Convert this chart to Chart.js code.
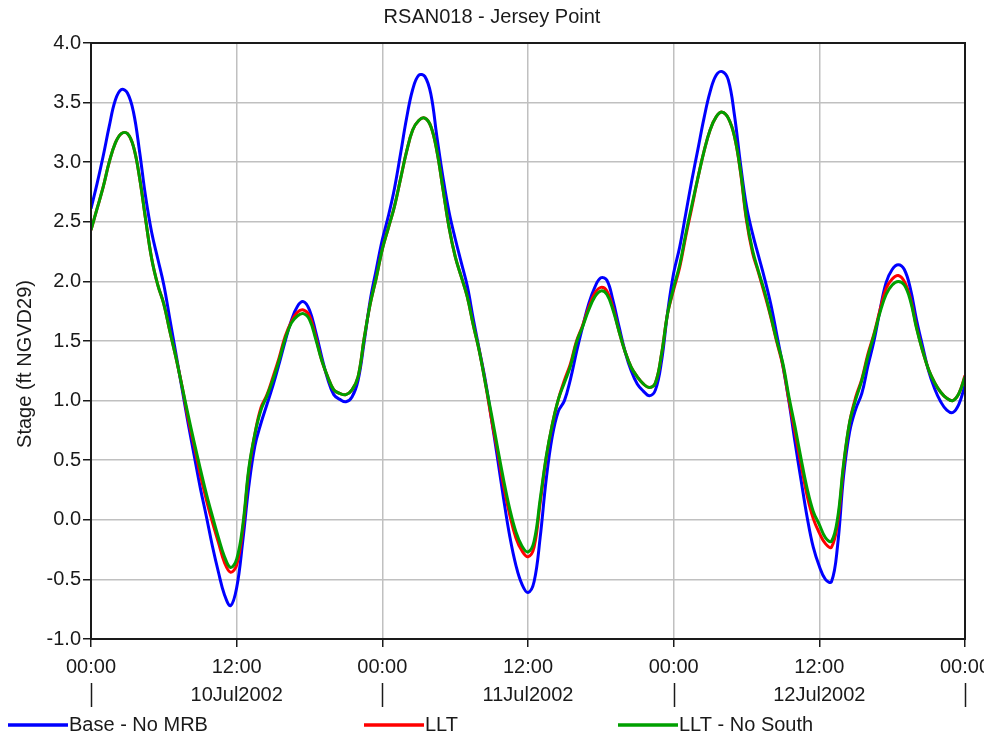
<!DOCTYPE html>
<html>
<head>
<meta charset="utf-8">
<script src="https://cdn.jsdelivr.net/npm/chart.js@4.4.1/dist/chart.umd.min.js"></script>
<style>
  html, body { margin: 0; padding: 0; background: #fff; }
  canvas { display: block; }
</style>
</head>
<body>
<canvas id="grafico" width="984" height="740"></canvas>
<script>
// horas desde 10Jul2002 00:00 (passo de 30 min)
const horas = [
  0, 0.5, 1, 1.5, 2, 2.5, 3, 3.5, 4, 4.5, 5, 5.5, 6, 6.5, 7, 7.5, 8, 8.5, 9, 9.5, 10, 10.5, 11, 11.5,
  12, 12.5, 13, 13.5, 14, 14.5, 15, 15.5, 16, 16.5, 17, 17.5, 18, 18.5, 19, 19.5, 20, 20.5, 21, 21.5, 22, 22.5, 23, 23.5,
  24, 24.5, 25, 25.5, 26, 26.5, 27, 27.5, 28, 28.5, 29, 29.5, 30, 30.5, 31, 31.5, 32, 32.5, 33, 33.5, 34, 34.5, 35, 35.5,
  36, 36.5, 37, 37.5, 38, 38.5, 39, 39.5, 40, 40.5, 41, 41.5, 42, 42.5, 43, 43.5, 44, 44.5, 45, 45.5, 46, 46.5, 47, 47.5,
  48, 48.5, 49, 49.5, 50, 50.5, 51, 51.5, 52, 52.5, 53, 53.5, 54, 54.5, 55, 55.5, 56, 56.5, 57, 57.5, 58, 58.5, 59, 59.5,
  60, 60.5, 61, 61.5, 62, 62.5, 63, 63.5, 64, 64.5, 65, 65.5, 66, 66.5, 67, 67.5, 68, 68.5, 69, 69.5, 70, 70.5, 71, 71.5,
  72
];

const baseNoMRB = [
  2.61, 2.82, 3.05, 3.30, 3.52, 3.61, 3.58, 3.42, 3.09, 2.71, 2.41, 2.19, 1.97, 1.68, 1.39, 1.10, 0.81, 0.54, 0.27, 0.03, -0.22, -0.44, -0.63, -0.72,
  -0.57, -0.18, 0.28, 0.62, 0.81, 0.97, 1.13, 1.31, 1.50, 1.67, 1.79, 1.83, 1.76, 1.58, 1.37, 1.18, 1.05, 1.01, 0.99, 1.03, 1.17, 1.49, 1.84, 2.10,
  2.35, 2.55, 2.78, 3.07, 3.37, 3.61, 3.73, 3.72, 3.57, 3.21, 2.87, 2.58, 2.36, 2.16, 1.96, 1.68, 1.42, 1.16, 0.84, 0.51, 0.17, -0.14, -0.38, -0.54,
  -0.61, -0.52, -0.15, 0.34, 0.70, 0.91, 1.00, 1.18, 1.41, 1.62, 1.81, 1.95, 2.03, 2.01, 1.84, 1.62, 1.41, 1.25, 1.14, 1.08, 1.04, 1.09, 1.33, 1.74,
  2.07, 2.29, 2.57, 2.85, 3.11, 3.37, 3.59, 3.73, 3.76, 3.69, 3.40, 2.99, 2.63, 2.40, 2.21, 2.02, 1.81, 1.55, 1.29, 0.99, 0.65, 0.33, 0.02, -0.23,
  -0.39, -0.50, -0.52, -0.22, 0.37, 0.74, 0.93, 1.06, 1.29, 1.50, 1.76, 1.99, 2.10, 2.14, 2.10, 1.94, 1.68, 1.46, 1.25, 1.10, 0.99, 0.92, 0.90, 0.97,
  1.13
];

const llt = [
  2.43, 2.61, 2.79, 3.00, 3.16, 3.24, 3.24, 3.13, 2.87, 2.52, 2.19, 1.97, 1.81, 1.58, 1.36, 1.12, 0.85, 0.62, 0.38, 0.17, -0.02, -0.19, -0.36, -0.44,
  -0.38, -0.08, 0.41, 0.72, 0.94, 1.05, 1.20, 1.36, 1.54, 1.66, 1.74, 1.76, 1.71, 1.54, 1.34, 1.20, 1.09, 1.06, 1.05, 1.09, 1.20, 1.52, 1.81, 2.03,
  2.27, 2.45, 2.63, 2.86, 3.09, 3.27, 3.35, 3.37, 3.30, 3.09, 2.77, 2.45, 2.21, 2.04, 1.87, 1.63, 1.41, 1.14, 0.84, 0.57, 0.28, 0.04, -0.15, -0.26,
  -0.31, -0.23, 0.14, 0.52, 0.80, 1.01, 1.17, 1.31, 1.50, 1.63, 1.78, 1.90, 1.95, 1.92, 1.78, 1.58, 1.41, 1.28, 1.20, 1.14, 1.11, 1.15, 1.39, 1.73,
  1.93, 2.12, 2.38, 2.62, 2.87, 3.09, 3.27, 3.38, 3.42, 3.37, 3.22, 2.92, 2.51, 2.24, 2.07, 1.89, 1.70, 1.49, 1.29, 1.00, 0.73, 0.46, 0.20, 0.01,
  -0.11, -0.20, -0.23, -0.03, 0.45, 0.82, 1.03, 1.18, 1.39, 1.56, 1.76, 1.94, 2.02, 2.05, 2.00, 1.86, 1.62, 1.42, 1.26, 1.15, 1.07, 1.02, 1.00, 1.06,
  1.21
];

const lltNoSouth = [
  2.43, 2.61, 2.79, 3.00, 3.16, 3.24, 3.24, 3.13, 2.87, 2.52, 2.19, 1.97, 1.81, 1.58, 1.36, 1.12, 0.88, 0.65, 0.43, 0.22, 0.03, -0.15, -0.31, -0.40,
  -0.33, -0.05, 0.43, 0.72, 0.92, 1.04, 1.18, 1.34, 1.52, 1.65, 1.71, 1.73, 1.68, 1.52, 1.34, 1.20, 1.09, 1.06, 1.05, 1.09, 1.20, 1.52, 1.81, 2.03,
  2.27, 2.45, 2.63, 2.86, 3.09, 3.27, 3.35, 3.37, 3.30, 3.09, 2.77, 2.45, 2.21, 2.04, 1.87, 1.63, 1.41, 1.14, 0.88, 0.60, 0.33, 0.09, -0.10, -0.22,
  -0.27, -0.18, 0.17, 0.53, 0.80, 1.01, 1.15, 1.29, 1.49, 1.62, 1.76, 1.87, 1.92, 1.89, 1.76, 1.58, 1.41, 1.28, 1.20, 1.14, 1.11, 1.15, 1.39, 1.73,
  1.95, 2.14, 2.40, 2.64, 2.87, 3.09, 3.27, 3.38, 3.42, 3.37, 3.22, 2.93, 2.53, 2.26, 2.08, 1.91, 1.71, 1.50, 1.31, 1.03, 0.78, 0.51, 0.26, 0.07,
  -0.04, -0.15, -0.18, 0.01, 0.47, 0.82, 1.01, 1.17, 1.37, 1.55, 1.74, 1.89, 1.97, 2.00, 1.97, 1.84, 1.61, 1.42, 1.26, 1.15, 1.07, 1.02, 1.00, 1.06,
  1.20
];

const horasTicks = [0, 12, 24, 36, 48, 60, 72];
const rotulosHora = ['00:00', '12:00', '00:00', '12:00', '00:00', '12:00', '00:00'];
const horasDias = [12, 36, 60];
const rotulosDias = ['10Jul2002', '11Jul2002', '12Jul2002'];
const horasSeparadores = [0, 24, 48, 72];

const series = [
  { nome: 'Base - No MRB', dados: baseNoMRB, cor: '#0000ff', ordem: 2 },
  { nome: 'LLT', dados: llt, cor: '#ff0000', ordem: 1 },
  { nome: 'LLT - No South', dados: lltNoSouth, cor: '#00a000', ordem: 0 }
];

const FONTE = '20px "Liberation Sans", Arial, sans-serif';
const TEXTO = '#1a1a1a';

// desenha titulo, eixo x, legenda e moldura
const extras = {
  id: 'extras',
  afterDatasetsDraw(chart) {
    const { ctx, chartArea: a, scales } = chart;
    const x = scales.x;
    ctx.save();

    // moldura
    ctx.strokeStyle = TEXTO;
    ctx.lineWidth = 2;
    ctx.strokeRect(a.left, a.top, a.right - a.left, a.bottom - a.top);

    ctx.fillStyle = TEXTO;
    ctx.font = FONTE;
    ctx.textAlign = 'center';
    ctx.textBaseline = 'alphabetic';
    ctx.fillText('RSAN018 - Jersey Point', 492, 23);

    // titulo do eixo y
    ctx.save();
    ctx.translate(31, 364);
    ctx.rotate(-Math.PI / 2);
    ctx.fillText('Stage (ft NGVD29)', 0, 0);
    ctx.restore();

    // rotulos de hora
    horasTicks.forEach((h, i) => {
      ctx.fillText(rotulosHora[i], x.getPixelForValue(h), 673);
    });
    // rotulos de data
    horasDias.forEach((h, i) => {
      ctx.fillText(rotulosDias[i], x.getPixelForValue(h), 701);
    });
    // separadores de dia
    ctx.lineWidth = 1.5;
    horasSeparadores.forEach(h => {
      const px = Math.round(x.getPixelForValue(h)) + 0.5;
      ctx.beginPath();
      ctx.moveTo(px, 683);
      ctx.lineTo(px, 707);
      ctx.stroke();
    });

    // legenda
    const posLegenda = [8, 364, 618];
    ctx.textAlign = 'left';
    series.forEach((s, i) => {
      const x0 = posLegenda[i];
      ctx.strokeStyle = s.cor;
      ctx.lineWidth = 3.5;
      ctx.beginPath();
      ctx.moveTo(x0, 725);
      ctx.lineTo(x0 + 60, 725);
      ctx.stroke();
      ctx.fillStyle = TEXTO;
      ctx.fillText(s.nome, x0 + 61, 731);
    });

    ctx.restore();
  }
};

const ctx = document.getElementById('grafico').getContext('2d');
new Chart(ctx, {
  type: 'line',
  data: {
    datasets: series.map(s => ({
      label: s.nome,
      data: horas.map((h, i) => ({ x: h, y: s.dados[i] })),
      order: s.ordem,
      borderColor: s.cor,
      borderWidth: 3,
      pointRadius: 0,
      fill: false,
      tension: 0.4
    }))
  },
  options: {
    responsive: false,
    animation: false,
    events: [],
    layout: { padding: { top: 43, right: 19, bottom: 0, left: 0 } },
    plugins: {
      legend: { display: false },
      title: { display: false },
      tooltip: { enabled: false }
    },
    scales: {
      x: {
        type: 'linear',
        min: 0,
        max: 72,
        afterFit: s => { s.height = 101; },
        afterBuildTicks: s => { s.ticks = horasTicks.map(v => ({ value: v })); },
        ticks: { display: false },
        grid: { color: '#c0c0c0', lineWidth: 1.5, tickColor: TEXTO, tickLength: 8, drawTicks: true },
        border: { display: false }
      },
      y: {
        min: -1,
        max: 4,
        afterFit: s => { s.width = 91; },
        ticks: {
          stepSize: 0.5,
          padding: 2,
          color: TEXTO,
          font: { family: '"Liberation Sans", Arial, sans-serif', size: 20 },
          callback: v => v.toFixed(1)
        },
        grid: { color: '#c0c0c0', lineWidth: 1.5, tickColor: TEXTO, tickLength: 8, drawTicks: true },
        border: { display: false }
      }
    }
  },
  plugins: [extras]
});
</script>
</body>
</html>
